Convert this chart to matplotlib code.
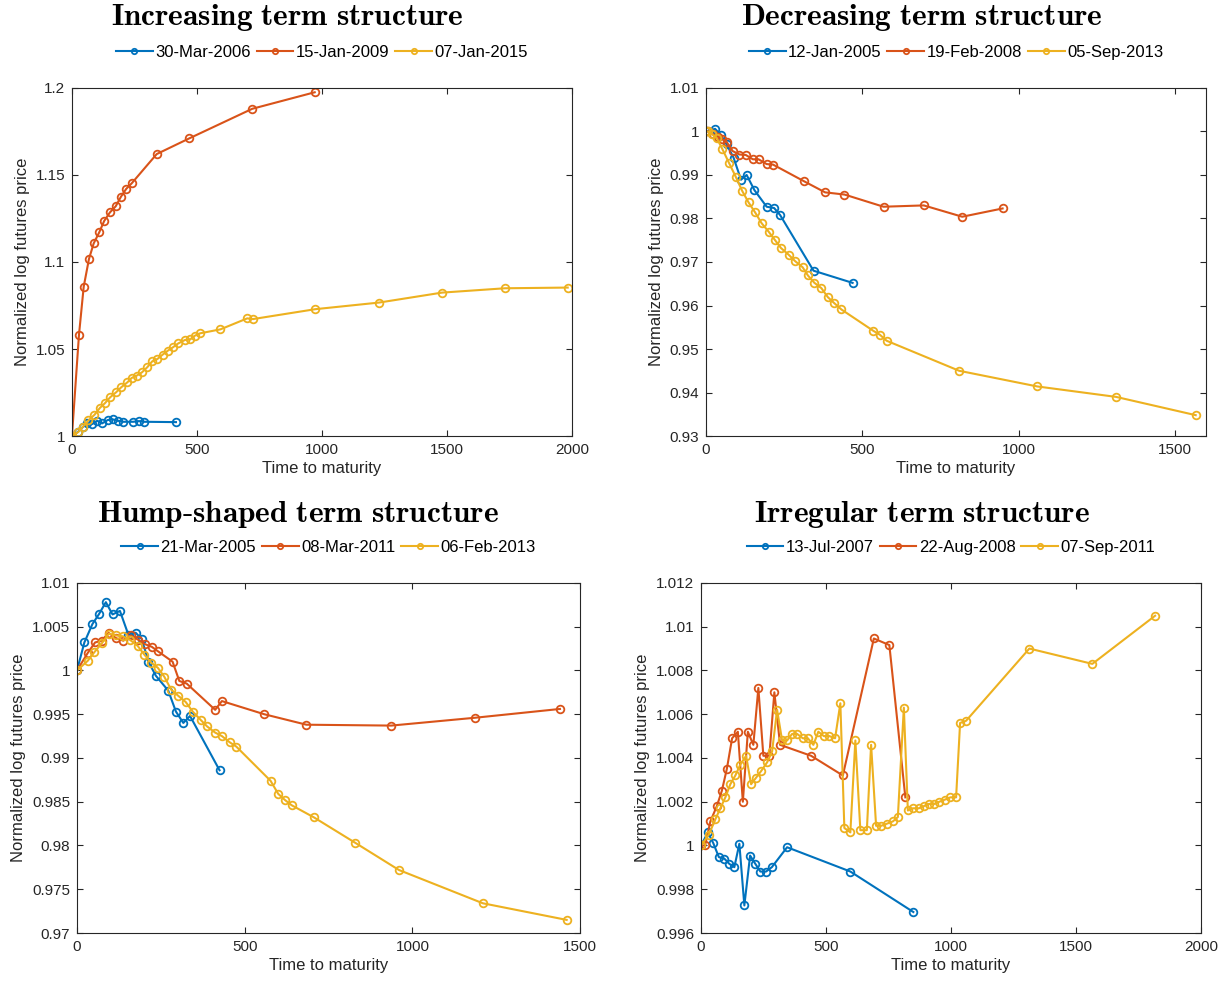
import matplotlib
matplotlib.use("Agg")
from matplotlib import pyplot as plt

plt.rcParams['font.family'] = ['Liberation Sans', 'DejaVu Sans']
plt.rcParams['mathtext.fontset'] = 'cm'

BLUE = '#0072BD'
ORANGE = '#D95319'
YELLOW = '#EDB120'
DARK = '#262626'

# Increasing term structure
inc_labels = ['30-Mar-2006', '15-Jan-2009', '07-Jan-2015']
inc_a_x = [0, 25, 45, 59, 81, 101, 121, 143, 163, 183, 205, 245, 268, 289, 416]
inc_a_y = [1, 1.0025, 1.0054, 1.0073, 1.0069, 1.0088, 1.0073, 1.0092, 1.0096, 1.0088,
           1.0082, 1.0082, 1.0086, 1.0082, 1.0080]
inc_b_x = [0, 28, 47, 68, 87, 109, 129, 152, 175, 196, 217, 239, 339, 469, 721, 971]
inc_b_y = [1, 1.058, 1.0858, 1.1017, 1.1107, 1.117, 1.1236, 1.1285, 1.132, 1.1375,
           1.142, 1.1452, 1.162, 1.171, 1.188, 1.1975]
inc_c_x = [0, 25, 43, 66, 90, 112, 132, 153, 177, 197, 222, 239, 259, 280, 301, 321,
           342, 363, 383, 404, 425, 452, 473, 491, 512, 594, 701, 724, 974, 1229,
           1480, 1732, 1983]
inc_c_y = [1, 1.0023, 1.0052, 1.009, 1.0122, 1.0162, 1.0189, 1.0223, 1.0252, 1.028,
           1.0309, 1.0334, 1.0347, 1.0366, 1.0395, 1.0429, 1.0443, 1.0468, 1.049,
           1.051, 1.0532, 1.0552, 1.0555, 1.0576, 1.059, 1.0613, 1.0676, 1.0672,
           1.0729, 1.0767, 1.0824, 1.0849, 1.0853]

# Decreasing term structure
dec_labels = ['12-Jan-2005', '19-Feb-2008', '05-Sep-2013']
dec_a_x = [0, 29, 47, 66, 88, 112, 130, 155, 194, 218, 237, 344, 469]
dec_a_y = [1, 1.0006, 0.9992, 0.997, 0.994, 0.9889, 0.990, 0.9865, 0.9827, 0.9824,
           0.9808, 0.968, 0.9652]
dec_b_x = [0, 7, 22, 38, 52, 66, 85, 107, 127, 150, 168, 194, 214, 315, 381, 443,
           568, 697, 820, 949]
dec_b_y = [1, 1.0, 0.9994, 0.9988, 0.9982, 0.9976, 0.9955, 0.9947, 0.9946, 0.9936,
           0.9936, 0.9925, 0.9924, 0.9885, 0.986, 0.9855, 0.9827, 0.983, 0.9804,
           0.9823]
dec_c_x = [0, 7, 20, 34, 52, 74, 95, 116, 136, 157, 178, 200, 221, 240, 264, 285,
           309, 326, 347, 369, 390, 411, 433, 535, 556, 578, 810, 1060, 1312, 1567]
dec_c_y = [1, 1.0, 0.9993, 0.9985, 0.996, 0.9927, 0.9896, 0.9863, 0.9837, 0.9814,
           0.9789, 0.977, 0.975, 0.9732, 0.9717, 0.9702, 0.9688, 0.9669, 0.9652,
           0.964, 0.9619, 0.9605, 0.9591, 0.9542, 0.9533, 0.9519, 0.945, 0.9414,
           0.939, 0.9348]

# Hump-shaped term structure
hump_labels = ['21-Mar-2005', '08-Mar-2011', '06-Feb-2013']
hump_a_x = [0, 22, 46, 65, 86, 106, 128, 153, 175, 193, 213, 235, 272, 295, 317,
            337, 425]
hump_a_y = [1, 1.0032, 1.0053, 1.0064, 1.0078, 1.0064, 1.0068, 1.0041, 1.0043,
            1.0036, 1.001, 0.9994, 0.9977, 0.9953, 0.994, 0.9948, 0.9886]
hump_b_x = [0, 32, 54, 74, 94, 116, 138, 161, 183, 203, 223, 241, 285, 305, 327,
            412, 432, 558, 684, 937, 1188, 1440]
hump_b_y = [1, 1.002, 1.0032, 1.0034, 1.0043, 1.0037, 1.0034, 1.004, 1.0035, 1.003,
            1.0027, 1.0022, 1.001, 0.9988, 0.9985, 0.9955, 0.9965, 0.995, 0.9938,
            0.9937, 0.9946, 0.9956]
hump_c_x = [0, 32, 52, 74, 95, 116, 136, 158, 181, 201, 221, 241, 260, 281, 302,
            324, 345, 370, 388, 412, 432, 455, 475, 577, 600, 620, 640, 707, 830,
            960, 1210, 1460]
hump_c_y = [1, 1.0011, 1.0021, 1.0031, 1.0042, 1.004, 1.0039, 1.0035, 1.0028,
            1.0018, 1.0009, 1.0003, 0.9993, 0.9978, 0.9971, 0.9964, 0.9953, 0.9943,
            0.9936, 0.9929, 0.9925, 0.9918, 0.9913, 0.9874, 0.9859, 0.9852, 0.9846,
            0.9832, 0.9803, 0.9772, 0.9734, 0.9715]

# Irregular term structure
irr_labels = ['13-Jul-2007', '22-Aug-2008', '07-Sep-2011']
irr_a_x = [0, 27, 49, 71, 93, 113, 133, 153, 173, 196, 217, 237, 260, 283, 344,
           597, 849]
irr_a_y = [1, 1.0006, 1.0001, 0.99947, 0.9994, 0.99916, 0.99901, 1.00008, 0.99726,
           0.99954, 0.99916, 0.99881, 0.99881, 0.99901, 0.99992, 0.99881, 0.99696]
irr_b_x = [0, 16, 37, 63, 83, 103, 124, 147, 167, 187, 209, 229, 249, 273, 293,
           316, 440, 567, 691, 753, 817]
irr_b_y = [1, 1.0, 1.0011, 1.0018, 1.0025, 1.0035, 1.0049, 1.0052, 1.002, 1.0052,
           1.0046, 1.0072, 1.0041, 1.0041, 1.007, 1.0046, 1.0041, 1.0032, 1.00946,
           1.00916, 1.0022]
irr_c_x = [0, 31, 57, 77, 97, 117, 137, 157, 180, 200, 220, 240, 264, 284, 304,
           324, 344, 364, 384, 407, 427, 449, 469, 491, 513, 536, 557, 573, 597,
           617, 637, 663, 680, 700, 720, 744, 767, 787, 811, 827, 847, 871, 891,
           911, 933, 953, 976, 997, 1020, 1036, 1060, 1313, 1565, 1816]
irr_c_y = [1, 1.0005, 1.0012, 1.0017, 1.0022, 1.0028, 1.0032, 1.0037, 1.0041,
           1.0028, 1.0031, 1.0034, 1.0038, 1.0043, 1.0062, 1.0048, 1.0048, 1.0051,
           1.0051, 1.0049, 1.0049, 1.0046, 1.0052, 1.005, 1.005, 1.0049, 1.0065,
           1.0008, 1.0006, 1.0048, 1.0007, 1.0007, 1.0046, 1.0009, 1.0009, 1.001,
           1.0011, 1.0013, 1.0063, 1.0016, 1.0017, 1.0017, 1.0018, 1.0019, 1.0019,
           1.002, 1.0021, 1.0022, 1.0022, 1.0056, 1.0057, 1.009, 1.0083, 1.0105]


def bold_title(title):
    # LaTeX-style bold title; keep the hyphen a text hyphen, not a minus
    parts = [r'\mathbf{' + w.replace(' ', r'\ ') + '}' for w in title.split('-')]
    return '$' + r'\text{-}'.join(parts) + '$'


def draw(ax, title, labels, series, xlim, ylim, xticks, yticks, tx, ty):
    for (x, y), c, lab in zip(series, [BLUE, ORANGE, YELLOW], labels):
        ax.plot(x, y, '-o', color=c, lw=1.5, ms=5.5, mfc='none', mew=1.3, label=lab)
    ax.set_xlim(xlim)
    ax.set_ylim(ylim)
    ax.set_xticks(xticks)
    ax.set_yticks(yticks)
    ax.set_yticklabels([('%.3f' % v).rstrip('0').rstrip('.') for v in yticks])
    ax.tick_params(direction='in', top=True, right=True, length=4, width=0.8,
                   labelsize=11, colors=DARK, pad=5)
    for s in ax.spines.values():
        s.set_color(DARK)
        s.set_linewidth(0.8)
    ax.set_xlabel("Time to maturity", fontsize=12, color=DARK, labelpad=3)
    ax.set_ylabel("Normalized log futures price", fontsize=12, color=DARK)
    ax.text(tx, ty, bold_title(title),
            transform=ax.transAxes, ha='center', va='center', fontsize=22.5)
    ax.legend(loc='center', bbox_to_anchor=(0.5, 1.102), ncol=3, frameon=False,
              fontsize=12, numpoints=1, handlelength=2.2, handletextpad=0.15,
              columnspacing=0.35, markerscale=0.7, borderaxespad=0)


fig = plt.figure(figsize=(12.3, 9.89), dpi=100)
ax1 = fig.add_axes([0.0585, 0.5591, 0.4065, 0.352])
ax2 = fig.add_axes([0.574, 0.5591, 0.4065, 0.352])
ax3 = fig.add_axes([0.0626, 0.0566, 0.409, 0.354])
ax4 = fig.add_axes([0.570, 0.0566, 0.4065, 0.354])

draw(ax1, 'Increasing term structure', inc_labels,
     [(inc_a_x, inc_a_y), (inc_b_x, inc_b_y), (inc_c_x, inc_c_y)],
     (0, 2000), (1, 1.2), [0, 500, 1000, 1500, 2000],
     [1, 1.05, 1.1, 1.15, 1.2], 0.43, 1.203)
draw(ax2, 'Decreasing term structure', dec_labels,
     [(dec_a_x, dec_a_y), (dec_b_x, dec_b_y), (dec_c_x, dec_c_y)],
     (0, 1600), (0.93, 1.01), [0, 500, 1000, 1500],
     [0.93, 0.94, 0.95, 0.96, 0.97, 0.98, 0.99, 1, 1.01], 0.432, 1.203)
draw(ax3, 'Hump-shaped term structure', hump_labels,
     [(hump_a_x, hump_a_y), (hump_b_x, hump_b_y), (hump_c_x, hump_c_y)],
     (0, 1500), (0.97, 1.01), [0, 500, 1000, 1500],
     [0.97, 0.975, 0.98, 0.985, 0.99, 0.995, 1, 1.005, 1.01], 0.44, 1.195)
draw(ax4, 'Irregular term structure', irr_labels,
     [(irr_a_x, irr_a_y), (irr_b_x, irr_b_y), (irr_c_x, irr_c_y)],
     (0, 2000), (0.996, 1.012), [0, 500, 1000, 1500, 2000],
     [0.996, 0.998, 1, 1.002, 1.004, 1.006, 1.008, 1.01, 1.012], 0.442, 1.195)

fig.savefig("out.png", dpi=100)
